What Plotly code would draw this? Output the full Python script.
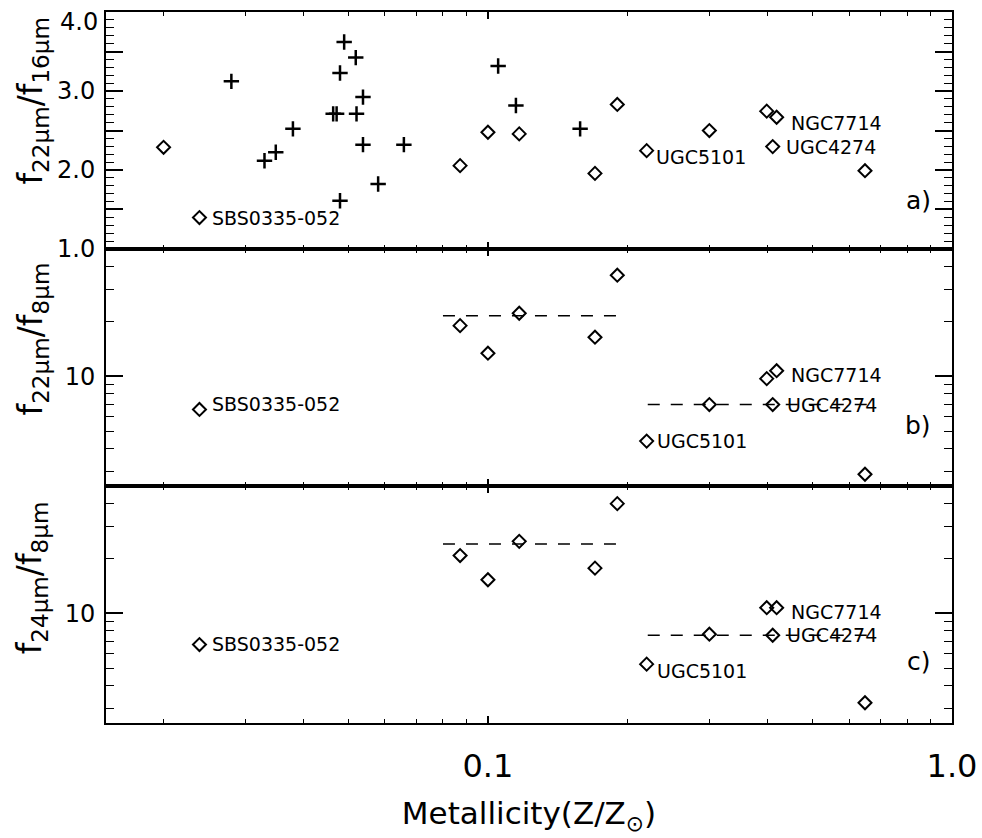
import math
import plotly.graph_objects as go
from plotly.subplots import make_subplots

# ---------------- data ----------------
# panel a: f22/f16, diamonds (galaxies of this sample)
metal_a = [0.0200, 0.0239, 0.0871, 0.1000, 0.1168, 0.1701, 0.1900, 0.2198, 0.3000, 0.3988, 0.4189, 0.4108, 0.6494]
ratio_22_16 = [2.287, 1.398, 2.055, 2.478, 2.457, 1.957, 2.830, 2.245, 2.499, 2.745, 2.668, 2.296, 1.991]

# panel a: comparison sample (plus signs)
plus_metal = [0.0280, 0.0330, 0.0349, 0.0380, 0.0464, 0.0472, 0.0480, 0.0480, 0.0490,
              0.0519, 0.0521, 0.0538, 0.0538, 0.0580, 0.0659, 0.1052, 0.1149, 0.1580]
plus_ratio = [3.122, 2.118, 2.224, 2.521, 2.711, 2.711, 3.228, 1.610, 3.621,
              3.423, 2.711, 2.923, 2.321, 1.822, 2.321, 3.317, 2.817, 2.521]

# panels b, c
metal_bc = [0.0239, 0.0871, 0.1000, 0.1168, 0.1701, 0.1900, 0.2198, 0.3000, 0.3988, 0.4189, 0.4108, 0.6494]
ratio_22_8 = [6.58, 18.98, 13.4, 22.2, 16.4, 35.9, 4.41, 7.0, 9.71, 10.74, 7.0, 2.9]
ratio_24_8 = [6.74, 20.75, 15.29, 24.84, 17.7, 40.0, 5.26, 7.68, 10.74, 10.74, 7.58, 3.23]

# mean (dashed) lines: [x_start, x_end], value
mean_low_x = [0.080, 0.1945]
mean_high_x = [0.221, 0.659]
mean_22_8 = [21.5, 7.0]
mean_24_8 = [24.0, 7.58]

# labelled galaxies: name, metallicity, (a, b, c) values
label_names = ["SBS0335-052", "UGC5101", "NGC7714", "UGC4274"]
label_metal = [0.0239, 0.2198, 0.4189, 0.4108]
label_a = [1.398, 2.245, 2.668, 2.296]
label_b = [6.58, 4.41, 10.74, 7.0]
label_c = [6.74, 5.26, 10.74, 7.58]
panel_tags = ["a)", "b)", "c)"]

# tick values
x_major = [0.1, 1.0]
x_major_text = ["0.1", "1.0"]
x_minor = [0.02, 0.03, 0.04, 0.05, 0.06, 0.07, 0.08, 0.09, 0.2, 0.3, 0.4, 0.5, 0.6, 0.7, 0.8, 0.9]
ya_major = [1.0, 2.0, 3.0]
ya_major_text = ["1.0", "2.0", "3.0"]
ya_top = 4.0
ya_top_text = "4.0"
ya_long = [1.5, 2.5, 3.5, 4.0]
ya_minor = [round(1 + 0.1 * i, 1) for i in range(31)]
ylog_major = [10]
ylog_minor = [3, 4, 5, 6, 7, 8, 9, 20, 30, 40]

# ---------------- figure ----------------
FONT = "DejaVu Sans"
fig = make_subplots(rows=3, cols=1, shared_xaxes=True, vertical_spacing=0)

dia = dict(symbol="diamond-open", size=10, color="black", line=dict(width=2, color="black"))
plus = dict(symbol="cross-thin-open", size=11, color="black", line=dict(width=2.5, color="black"))
dash_line = dict(color="black", width=1.6, dash="12px,11px")

fig.add_trace(go.Scatter(x=metal_a, y=ratio_22_16, mode="markers", marker=dia), row=1, col=1)
fig.add_trace(go.Scatter(x=plus_metal, y=plus_ratio, mode="markers", marker=plus), row=1, col=1)

for row, vals, means in [(2, ratio_22_8, mean_22_8), (3, ratio_24_8, mean_24_8)]:
    fig.add_trace(go.Scatter(x=mean_low_x, y=[means[0]] * 2, mode="lines", line=dash_line), row=row, col=1)
    fig.add_trace(go.Scatter(x=mean_high_x, y=[means[1]] * 2, mode="lines", line=dash_line), row=row, col=1)
    fig.add_trace(go.Scatter(x=metal_bc, y=vals, mode="markers", marker=dia), row=row, col=1)

# ---------------- axes ----------------
for r in (1, 2, 3):
    fig.update_xaxes(
        type="log", range=[-1.823, 0], showline=True, linecolor="black", linewidth=2,
        mirror="ticks", ticks="inside", tickvals=x_major, ticktext=x_major_text,
        ticklen=7, tickwidth=1.5, tickcolor="black", showgrid=False, zeroline=False,
        automargin=False, ticklabelstandoff=14,
        minor=dict(tickvals=x_minor, ticks="inside", ticklen=4, tickwidth=1.2, tickcolor="black", showgrid=False),
        tickfont=dict(family=FONT, size=32, color="black"),
        row=r, col=1)
fig.update_xaxes(showticklabels=True, row=3, col=1)
fig.update_xaxes(title=dict(text="Metallicity(Z/Z<sub>⊙</sub>)", font=dict(family=FONT, size=31, color="black"),
                            standoff=18), row=3, col=1)

fig.update_yaxes(
    range=[0.9999, 4.0001], showline=True, linecolor="black", linewidth=2, mirror="ticks",
    ticks="inside", tickvals=ya_major, ticktext=ya_major_text, ticklen=17, tickwidth=1.5, tickcolor="black",
    minor=dict(tickvals=ya_minor, ticks="inside", ticklen=8, tickwidth=1.2, tickcolor="black", showgrid=False),
    showgrid=False, zeroline=False, automargin=False, ticklabelstandoff=4,
    tickfont=dict(family=FONT, size=24, color="black"),
    row=1, col=1)
for r in (2, 3):
    fig.update_yaxes(
        type="log", range=[math.log10(2.5), math.log10(50)], showline=True, linecolor="black",
        linewidth=2, mirror="ticks", ticks="inside", tickvals=ylog_major, ticktext=["10"], ticklen=17,
        tickwidth=1.5, tickcolor="black", automargin=False, ticklabelstandoff=4,
        minor=dict(tickvals=ylog_minor, ticks="inside", ticklen=8, tickwidth=1.2, tickcolor="black", showgrid=False),
        showgrid=False, zeroline=False, tickfont=dict(family=FONT, size=24, color="black"),
        row=r, col=1)

# extra unlabeled long ticks for panel a (overlay axis)
fig.update_layout(
    yaxis4=dict(overlaying="y", anchor="x", side="left", range=[0.9999, 4.0001], tickvals=ya_long,
                ticks="inside", ticklen=17, tickwidth=1.5, tickcolor="black", mirror="ticks",
                showline=True, linecolor="black", linewidth=2,
                showticklabels=False, showgrid=False, zeroline=False, automargin=False),
)
fig.add_trace(go.Scatter(x=[metal_a[0]], y=[ratio_22_16[0]], mode="markers", opacity=0,
                         marker=dict(size=1, color="white"),
                         xaxis="x", yaxis="y4", hoverinfo="skip"))

# ---------------- annotations ----------------
ann = []
# top tick label of panel a, nudged down to stay inside the page (as in the original)
ann.append(dict(text=ya_top_text, xref="paper", yref="y", x=0, y=ya_top, xanchor="right", yanchor="middle",
                xshift=-6, yshift=-10, showarrow=False, font=dict(family=FONT, size=24, color="black")))

ytitles = ["f<sub>22μm</sub>/f<sub>16μm</sub>", "f<sub>22μm</sub>/f<sub>8μm</sub>", "f<sub>24μm</sub>/f<sub>8μm</sub>"]
ycent = [0.876, 0.540, 0.204]
for t, yc in zip(ytitles, ycent):
    ann.append(dict(text=t, xref="paper", yref="paper", x=-0.087, y=yc, textangle=-90,
                    showarrow=False, xanchor="center", yanchor="middle",
                    font=dict(family=FONT, size=33, color="black")))

shifts = {
    1: [(11, 0), (7, -6), (12, -6), (11, 0)],
    2: [(11, 5), (8, 0), (12, -4), (12, 0)],
    3: [(11, 1), (8, -7), (12, -4), (12, 0)],
}
lab_vals = {1: label_a, 2: label_b, 3: label_c}
axis_ids = {1: ("x", "y"), 2: ("x2", "y2"), 3: ("x3", "y3")}
for r in (1, 2, 3):
    xr, yr = axis_ids[r]
    for i, name in enumerate(label_names):
        yv = lab_vals[r][i] if r == 1 else math.log10(lab_vals[r][i])
        dx, dy = shifts[r][i]
        ann.append(dict(text=name, xref=xr, yref=yr, x=math.log10(label_metal[i]), y=yv,
                        xanchor="left", yanchor="middle", xshift=dx, yshift=dy, showarrow=False,
                        font=dict(family=FONT, size=19, color="black")))

tag_y = [0.735, 0.418, 0.087]
for t, yy in zip(panel_tags, tag_y):
    ann.append(dict(text=t, xref="paper", yref="paper", x=0.977, y=yy, xanchor="right",
                    yanchor="middle", showarrow=False, font=dict(family=FONT, size=25, color="black")))

fig.update_layout(
    width=982, height=838, autosize=False,
    margin=dict(l=106, r=30, t=12, b=115),
    plot_bgcolor="white", paper_bgcolor="white",
    showlegend=False, annotations=ann,
)

fig.write_html("out.html")
